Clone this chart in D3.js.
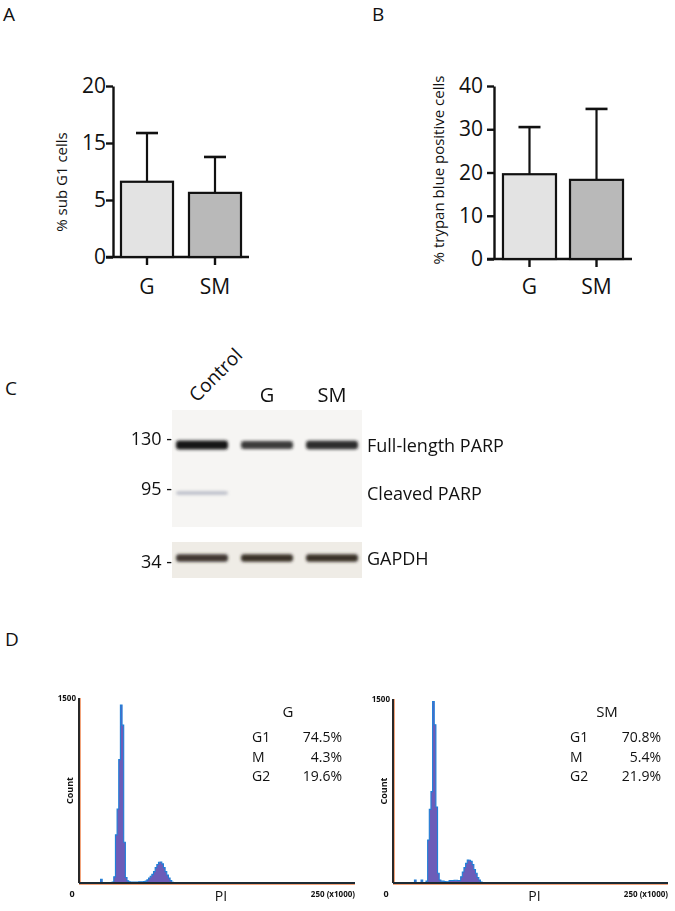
<!DOCTYPE html>
<html><head><meta charset="utf-8">
<script src="https://cdn.jsdelivr.net/npm/d3@7"></script>
<style>
body{margin:0;background:#fff}
svg{display:block}
text{font-family:'Open Sans',sans-serif;fill:#111}
</style></head>
<body><svg id="c" width="675" height="911"></svg>
<script>
// ---------- Panel A data ----------
const groups = ["G", "SM"];
const subG1Mean = [8.8, 7.5];
const subG1Err = [5.7, 4.2];
const subG1Max = 20;
const subG1TickLabels = ["0", "5", "15", "20"];
// ---------- Panel B data ----------
const trypanMean = [19.6, 18.3];
const trypanErr = [10.9, 16.4];
const trypanTicks = [0, 10, 20, 30, 40];
const barFills = ["#e3e3e3", "#b9b9b9"];
// ---------- Panel C data ----------
const lanes = ["Control", "G", "SM"];
const bandRows = ["Full-length PARP", "Cleaved PARP", "GAPDH"];
const markers = ["130", "95", "34"];
const fullPARP = [1.0, 0.75, 0.85];
const cleavedPARP = [0.3, 0, 0];
const gapdh = [0.85, 0.92, 0.92];
// ---------- Panel D data ----------
const piBinStart = 18, piBinWidth = 1.5;
const countsG = [0,30,0,0,0,0,0,0,8,50,390,600,1000,1443,1280,330,45,18,10,8,8,8,8,8,10,10,10,12,
  15,25,40,55,70,92,125,150,168,170,155,125,92,65,41,20,5,0];
const countsSM = [0,24,0,0,0,24,0,0,15,350,600,745,1480,1290,620,80,25,15,15,12,10,10,20,20,20,22,22,20,
  20,50,90,125,160,187,185,176,150,110,80,45,25,8,0,0,0,0];
const phasesG = [["G1", "74.5%"], ["M", "4.3%"], ["G2", "19.6%"]];
const phasesSM = [["G1", "70.8%"], ["M", "5.4%"], ["G2", "21.9%"]];
const piMax = 250, countMax = 1500;

const svg = d3.select("#c");

// panel letters
[["A", 3, 21], ["B", 372, 21], ["C", 5, 395], ["D", 5, 646]].forEach(([t, x, y]) =>
  svg.append("text").attr("x", x).attr("y", y).attr("font-size", 19).text(t));

// ---------- bar charts ----------
function barChart(o) {
  const g = svg.append("g");
  const x = d3.scaleBand().domain(groups).range(o.xr).paddingInner(o.pi).paddingOuter(o.po);
  const y = d3.scaleLinear().domain([0, o.max]).range(o.yr);
  const ax = g.append("g").attr("transform", `translate(${o.xr[0]},0)`)
    .call(d3.axisLeft(y).tickValues(o.tickVals).tickFormat((d, i) => o.tickLabels[i])
      .tickSize(7).tickSizeOuter(0).tickPadding(o.pad));
  ax.selectAll("path,line").attr("stroke", "#111").attr("stroke-width", 2.4);
  ax.selectAll("text").attr("font-size", 21).attr("fill", "#111").style("font-family", "'Open Sans',sans-serif");
  // x axis line
  g.append("line").attr("x1", o.xr[0] - 7).attr("x2", o.xr[1]).attr("y1", y(0)).attr("y2", y(0))
    .attr("stroke", "#111").attr("stroke-width", 2.4);
  groups.forEach((k, i) => {
    const cx = x(k) + x.bandwidth() / 2;
    const top = y(o.mean[i] + o.err[i]);
    g.append("line").attr("x1", cx).attr("x2", cx).attr("y1", y(o.mean[i])).attr("y2", top)
      .attr("stroke", "#111").attr("stroke-width", 2.2);
    g.append("line").attr("x1", cx - 11).attr("x2", cx + 11).attr("y1", top).attr("y2", top)
      .attr("stroke", "#111").attr("stroke-width", 2.6);
    g.append("rect").attr("x", x(k)).attr("y", y(o.mean[i])).attr("width", x.bandwidth())
      .attr("height", y(0) - y(o.mean[i])).attr("fill", barFills[i]).attr("stroke", "#111").attr("stroke-width", 2.2);
    g.append("line").attr("x1", cx).attr("x2", cx).attr("y1", y(0)).attr("y2", y(0) + 8)
      .attr("stroke", "#111").attr("stroke-width", 2.4);
    g.append("text").attr("x", cx).attr("y", 294).attr("text-anchor", "middle").attr("font-size", 21).text(k);
  });
  g.append("text").attr("transform", `translate(${o.lx},${o.ly}) rotate(-90)`).attr("text-anchor", "middle")
    .attr("font-size", 15).text(o.label);
}
barChart({xr: [113, 249], pi: 0.235, po: 0.1175, yr: [257, 86], max: subG1Max,
  tickVals: subG1TickLabels.map((d, i) => i * subG1Max / (subG1TickLabels.length - 1)),
  tickLabels: subG1TickLabels, pad: 0, mean: subG1Mean, err: subG1Err,
  label: "% sub G1 cells", lx: 67, ly: 182});
barChart({xr: [494, 632], pi: 0.209, po: 0.134, yr: [259, 86], max: 40,
  tickVals: trypanTicks, tickLabels: trypanTicks.map(String), pad: 4, mean: trypanMean, err: trypanErr,
  label: "% trypan blue positive cells", lx: 444, ly: 170});

// ---------- Panel C: western blot ----------
const defs = svg.append("defs");
defs.append("filter").attr("id", "blur").attr("x", "-20%").attr("y", "-100%").attr("width", "140%").attr("height", "300%")
  .append("feGaussianBlur").attr("stdDeviation", "1.8 1.5");
const lx = d3.scaleBand().domain(lanes).range([176, 358]).paddingInner(0.2);
const rowY = d3.scaleOrdinal().domain(bandRows).range([445, 493, 558]);
svg.append("rect").attr("x", 172).attr("y", 410).attr("width", 190).attr("height", 117).attr("fill", "#f6f5f3");
svg.append("rect").attr("x", 172).attr("y", 542).attr("width", 190).attr("height", 36).attr("fill", "#efece6");
const bandSpec = [
  {row: "Full-length PARP", vals: fullPARP, h: 9, col: "#151515"},
  {row: "Cleaved PARP", vals: cleavedPARP, h: 5, col: "#8a90a4"},
  {row: "GAPDH", vals: gapdh, h: 8, col: "#2e261f"}
];
const bg = svg.append("g").attr("filter", "url(#blur)");
bandSpec.forEach(b => lanes.forEach((l, i) => {
  if (b.vals[i] <= 0) return;
  const hh = b.h * (0.55 + 0.45 * b.vals[i]);
  bg.append("rect").attr("x", lx(l)).attr("y", rowY(b.row) - hh / 2).attr("width", lx.bandwidth())
    .attr("height", hh).attr("rx", 3).attr("fill", b.col).attr("opacity", 0.35 + 0.65 * b.vals[i]);
}));
lanes.forEach((l, i) => {
  const cx = lx(l) + lx.bandwidth() / 2;
  if (i === 0) {
    svg.append("text").attr("transform", `translate(${cx - 5},403) rotate(-45)`).attr("font-size", 19).text(l);
  } else {
    svg.append("text").attr("x", cx).attr("y", 402).attr("text-anchor", "middle").attr("font-size", 20).text(l);
  }
});
bandRows.forEach((r, i) => {
  svg.append("text").attr("x", 367).attr("y", rowY(r) + 7).attr("font-size", 18).text(r);
  svg.append("text").attr("x", 172).attr("y", [445, 495, 568][i]).attr("text-anchor", "end")
    .attr("font-size", 18).text(markers[i] + " -");
});

// ---------- Panel D: histograms ----------
function histo(o) {
  const g = svg.append("g");
  const x = d3.scaleLinear().domain([0, piMax]).range(o.xr);
  const y = d3.scaleLinear().domain([0, countMax]).range(o.yr);
  const pts = o.counts.map((c, i) => [piBinStart + i * piBinWidth, c]);
  pts.push([piBinStart + o.counts.length * piBinWidth, 0]);
  g.append("path").datum(pts)
    .attr("d", d3.area().x(d => x(d[0])).y0(y(0)).y1(d => y(d[1])).curve(d3.curveStepAfter))
    .attr("fill", "#6c5cb8");
  g.append("path").datum(pts)
    .attr("d", d3.line().x(d => x(d[0])).y(d => y(d[1])).curve(d3.curveStepAfter))
    .attr("fill", "none").attr("stroke", "#1f7fd8").attr("stroke-width", 1.1);
  // axes
  g.append("line").attr("x1", o.xr[0] + 1.5).attr("x2", o.xr[0] + 1.5).attr("y1", o.yr[1]).attr("y2", o.yr[0])
    .attr("stroke", "#f2a47c").attr("stroke-width", 1);
  g.append("line").attr("x1", o.xr[0]).attr("x2", o.xr[1]).attr("y1", o.yr[0] + 1.5).attr("y2", o.yr[0] + 1.5)
    .attr("stroke", "#f2a47c").attr("stroke-width", 1);
  g.append("line").attr("x1", o.xr[0]).attr("x2", o.xr[0]).attr("y1", o.yr[1]).attr("y2", o.yr[0])
    .attr("stroke", "#111").attr("stroke-width", 1.8);
  g.append("line").attr("x1", o.xr[0]).attr("x2", o.xr[1]).attr("y1", o.yr[0]).attr("y2", o.yr[0])
    .attr("stroke", "#1c2a33").attr("stroke-width", 1.8);
  g.append("text").attr("x", o.xr[0] - 3).attr("y", y(countMax) + 3).attr("text-anchor", "end")
    .attr("font-size", 8).attr("font-weight", "bold").text(String(countMax));
  g.append("text").attr("x", o.xr[0] - 7).attr("y", 897).attr("text-anchor", "middle")
    .attr("font-size", 9).attr("font-weight", "bold").text("0");
  g.append("text").attr("x", o.xr[1]).attr("y", 897).attr("text-anchor", "end")
    .attr("font-size", 8).attr("font-weight", "bold").text(piMax + " (x1000)");
  g.append("text").attr("x", (o.xr[0] + o.xr[1]) / 2 + 4).attr("y", 901).attr("text-anchor", "middle")
    .attr("font-size", 14).text("PI");
  g.append("text").attr("transform", `translate(${o.xr[0] - 6},${(o.yr[0] + o.yr[1]) / 2}) rotate(-90)`)
    .attr("text-anchor", "middle").attr("font-size", 9).attr("font-weight", "bold").text("Count");
  g.append("text").attr("x", o.tx).attr("y", 717).attr("text-anchor", "middle").attr("font-size", 15).text(o.title);
  o.phases.forEach((p, i) => {
    const yy = 742 + i * 19.5;
    g.append("text").attr("x", o.lab).attr("y", yy).attr("font-size", 14).text(p[0]);
    g.append("text").attr("x", o.val).attr("y", yy).attr("text-anchor", "end").attr("font-size", 14).text(p[1]);
  });
}
histo({xr: [79, 355], yr: [883, 698], counts: countsG, title: "G", phases: phasesG, tx: 288, lab: 252, val: 342});
histo({xr: [393, 668], yr: [883, 699], counts: countsSM, title: "SM", phases: phasesSM, tx: 607, lab: 570, val: 661});
</script></body></html>
